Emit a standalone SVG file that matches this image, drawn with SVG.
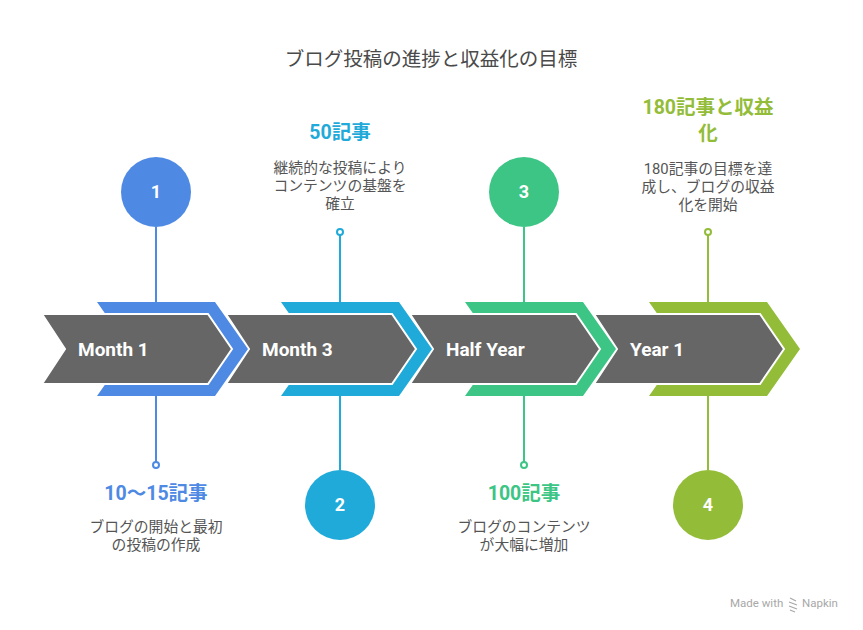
<svg xmlns="http://www.w3.org/2000/svg" width="863" height="630" viewBox="0 0 863 630">
<style>
  .t { font-family: Roboto, "Noto Sans CJK JP", "Noto Sans", sans-serif; }
  .title { font-size: 19.5px; fill: #4a4a4a; text-anchor: middle; }
  .head { font-size: 19.5px; font-weight: bold; text-anchor: middle; }
  .desc { font-size: 14.8px; fill: #555555; text-anchor: middle; }
  .lab { font-size: 19px; font-weight: bold; fill: #ffffff; }
  .num { font-size: 18px; font-weight: bold; fill: #ffffff; text-anchor: middle; }
  .gray { fill: #666666; stroke: #ffffff; stroke-width: 2; stroke-linejoin: miter; }
  .ln { stroke-width: 2; fill: none; }
  .dot { stroke-width: 2; fill: #ffffff; }
  .c1 { fill: #4E89E4; } .s1 { stroke: #4E89E4; }
  .c2 { fill: #1FAAD9; } .s2 { stroke: #1FAAD9; }
  .c3 { fill: #3CC584; } .s3 { stroke: #3CC584; }
  .c4 { fill: #93BC38; } .s4 { stroke: #93BC38; }
</style>

<text class="t title" x="431" y="66">ブログ投稿の進捗と収益化の目標</text>

<g id="connectors">
  <line class="ln s1" x1="156" y1="227" x2="156" y2="302"/>
  <line class="ln s1" x1="156" y1="396" x2="156" y2="462"/>
  <circle class="dot s1" cx="156" cy="465" r="3"/>
  <line class="ln s2" x1="340" y1="235" x2="340" y2="302"/>
  <circle class="dot s2" cx="340" cy="232" r="3"/>
  <line class="ln s2" x1="340" y1="396" x2="340" y2="470"/>
  <line class="ln s3" x1="524" y1="227" x2="524" y2="302"/>
  <line class="ln s3" x1="524" y1="396" x2="524" y2="462"/>
  <circle class="dot s3" cx="524" cy="465" r="3"/>
  <line class="ln s4" x1="708" y1="235" x2="708" y2="302"/>
  <circle class="dot s4" cx="708" cy="232" r="3"/>
  <line class="ln s4" x1="708" y1="396" x2="708" y2="470"/>
</g>

<g id="stage4">
  <polygon class="c4" points="649,302 767,302 800,349 767,396 649,396 682,349"/>
  <polygon class="gray" points="594,314 760,314 784,349 760,384 594,384 617,349"/>
  <text class="t lab" x="630" y="356">Year 1</text>
</g>
<g id="stage3">
  <polygon class="c3" points="465,302 583,302 616,349 583,396 465,396 498,349"/>
  <polygon class="gray" points="410,314 576,314 600,349 576,384 410,384 433,349"/>
  <text class="t lab" x="446" y="356">Half Year</text>
</g>
<g id="stage2">
  <polygon class="c2" points="281,302 399,302 432,349 399,396 281,396 314,349"/>
  <polygon class="gray" points="226,314 392,314 416,349 392,384 226,384 249,349"/>
  <text class="t lab" x="262" y="356">Month 3</text>
</g>
<g id="stage1">
  <polygon class="c1" points="97,302 215,302 248,349 215,396 97,396 130,349"/>
  <polygon class="gray" points="42,314 208,314 232,349 208,384 42,384 65,349"/>
  <text class="t lab" x="78" y="356">Month 1</text>
</g>

<g id="milestone1">
  <circle class="c1" cx="156" cy="192" r="35"/>
  <text class="t num" x="156" y="198">1</text>
  <text class="t head c1" x="156" y="500">10〜15記事</text>
  <text class="t desc" x="156" y="532">ブログの開始と最初</text>
  <text class="t desc" x="156" y="550">の投稿の作成</text>
</g>
<g id="milestone2">
  <circle class="c2" cx="340" cy="505" r="35"/>
  <text class="t num" x="340" y="511">2</text>
  <text class="t head c2" x="340" y="139">50記事</text>
  <text class="t desc" x="340" y="173">継続的な投稿により</text>
  <text class="t desc" x="340" y="191">コンテンツの基盤を</text>
  <text class="t desc" x="340" y="209">確立</text>
</g>
<g id="milestone3">
  <circle class="c3" cx="524" cy="192" r="35"/>
  <text class="t num" x="524" y="198">3</text>
  <text class="t head c3" x="524" y="500">100記事</text>
  <text class="t desc" x="524" y="532">ブログのコンテンツ</text>
  <text class="t desc" x="524" y="550">が大幅に増加</text>
</g>
<g id="milestone4">
  <circle class="c4" cx="708" cy="505" r="35"/>
  <text class="t num" x="708" y="511">4</text>
  <text class="t head c4" x="708" y="114">180記事と収益</text>
  <text class="t head c4" x="708" y="140">化</text>
  <text class="t desc" x="708" y="174">180記事の目標を達</text>
  <text class="t desc" x="708" y="192">成し、ブログの収益</text>
  <text class="t desc" x="708" y="210">化を開始</text>
</g>

<g id="watermark">
  <text class="t" x="730" y="607" font-size="11.5" fill="#a8a8a8">Made with</text>
  <path d="M790,598 l6,3 M789,602 l8,3 M789,606 l8,3 M790,610 l5,2" stroke="#a8a8a8" stroke-width="1.2" fill="none"/>
  <text class="t" x="802" y="607" font-size="11.5" fill="#a8a8a8">Napkin</text>
</g>
</svg>
